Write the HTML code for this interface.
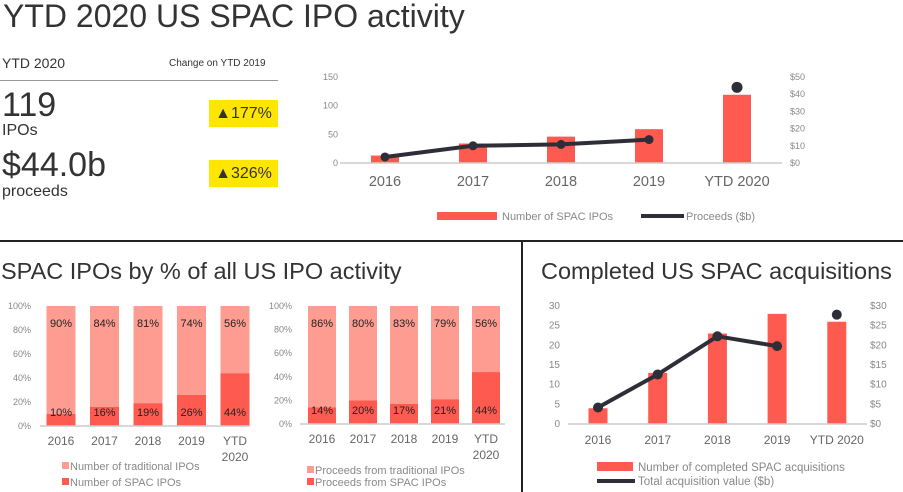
<!DOCTYPE html>
<html><head><meta charset="utf-8"><style>
body{margin:0;width:903px;height:492px;background:#fff;font-family:"Liberation Sans",sans-serif;overflow:hidden;position:relative;color:#333}
.a{position:absolute;white-space:nowrap}
svg{position:absolute;left:0;top:0}
svg text{font-family:"Liberation Sans",sans-serif}
</style></head><body>
<div class="a" style="left:3px;top:-2px;font-size:32px;color:#333">YTD 2020 US SPAC IPO activity</div>
<div class="a" style="left:2px;top:55px;font-size:14px">YTD 2020</div>
<div class="a" style="left:169px;top:58px;font-size:10px">Change on YTD 2019</div>
<div class="a" style="left:0;top:80px;width:278px;height:1px;background:#999"></div>
<div class="a" style="left:2px;top:86px;font-size:34px">119</div>
<div class="a" style="left:2px;top:122px;font-size:16px">IPOs</div>
<div class="a" style="left:2px;top:146px;font-size:34px">$44.0b</div>
<div class="a" style="left:2px;top:183px;font-size:16px">proceeds</div>
<div class="a" style="left:209px;top:100px;width:69px;height:27px;background:#ffe600;font-size:16px;line-height:27px;text-align:center">▲177%</div>
<div class="a" style="left:209px;top:160px;width:69px;height:27px;background:#ffe600;font-size:16px;line-height:27px;text-align:center">▲326%</div>
<div class="a" style="left:0;top:240px;width:903px;height:2px;background:#222"></div>
<div class="a" style="left:521px;top:241px;width:2px;height:251px;background:#222"></div>
<div class="a" style="left:1px;top:258px;font-size:23.5px">SPAC IPOs by % of all US IPO activity</div>
<div class="a" style="left:541px;top:258px;font-size:23.5px">Completed US SPAC acquisitions</div>
<svg id="s" width="903" height="492"></svg>
<script>
const years=["2016","2017","2018","2019","YTD 2020"];
const spacIpos=[13,34,46,59,119];
const ipoProceeds=[3.5,10,10.8,13.6,44];
const spacCountPct=[10,16,19,26,44];
const tradCountPct=[90,84,81,74,56];
const spacProcPct=[14,20,17,21,44];
const tradProcPct=[86,80,83,79,56];
const acqCount=[4,13,23,28,26];
const acqValue=[4.2,12.6,22.3,19.8,27.8];
const leftTicks1=[0,50,100,150];
const rightTicks1=["$0","$10","$20","$30","$40","$50"];
const pctTicks=["0%","20%","40%","60%","80%","100%"];
const leftTicks3=[0,5,10,15,20,25,30];
const rightTicks3=["$0","$5","$10","$15","$20","$25","$30"];
const RED="#ff5a4f",LIGHT="#ff9c92",DARK="#2e2e38",GRAY="#888";
const s=document.getElementById('s');const NS="http://www.w3.org/2000/svg";
function el(t,a,txt){const e=document.createElementNS(NS,t);for(const k in a)e.setAttribute(k,a[k]);if(txt!=null)e.textContent=txt;s.appendChild(e);return e;}
function tx(x,y,t,size,anchor,fill,name){const e=el('text',{x:x,y:y,'font-size':size,'text-anchor':anchor||'middle',fill:fill||GRAY},t);

return e;}
// Chart 1
(function(){const x0=385,dx=88,y0=163,h=86,bw=28;const ys=v=>y0-v/150*h,yr=v=>y0-v/50*h;
leftTicks1.forEach(t=>tx(338,ys(t)+3,t,9,'end',GRAY,'left-tick'));
rightTicks1.forEach((t,i)=>tx(790,yr(i*10)+3,t,9,'start',GRAY,'right-tick'));
years.forEach((c,i)=>{const x=x0+i*dx;const r=el('rect',{x:x-bw/2,y:ys(spacIpos[i]),width:bw,height:y0-ys(spacIpos[i]),fill:RED});


tx(x,186,c,14.5,'middle','#666','x-label');});
const ln=el('line',{x1:340,x2:782,y1:y0,y2:y0,stroke:'#ccc','stroke-width':1.5});


let p=ipoProceeds.slice(0,4).map((v,i)=>(x0+i*dx)+','+yr(v)).join(' ');
const pl=el('polyline',{points:p,fill:'none',stroke:DARK,'stroke-width':4});


ipoProceeds.forEach((v,i)=>{const c=el('circle',{cx:x0+i*dx,cy:yr(v),r:i==4?5.5:4.5,fill:DARK});

});
const l1=el('rect',{x:437,y:212,width:60,height:8,fill:RED});


tx(502,220,'Number of SPAC IPOs',11,'start',GRAY,'legend-ipos');
const l2=el('line',{x1:641,x2:684,y1:216,y2:216,stroke:DARK,'stroke-width':4});


tx(686,220,'Proceeds ($b)',11,'start',GRAY,'legend-proceeds');})();
// Stacked charts
function stacked(cx,dx,y0,y1,bw,spac,trad,labX,axA,axB,leg1,leg2,legY){const H=y0-y1,y=v=>y0-v/100*H;
pctTicks.forEach((t,i)=>tx(labX,y(i*20)+3,t,9,'end',GRAY,'pct-tick'));
years.forEach((c,i)=>{const x=cx+i*dx;
const a=el('rect',{x:x-bw/2,y:y(100),width:bw,height:y(spac[i])-y(100),fill:LIGHT});


const b=el('rect',{x:x-bw/2,y:y(spac[i]),width:bw,height:y0-y(spac[i]),fill:RED});


tx(x,y(100)+21,trad[i]+'%',11,'middle','#222','label-traditional');
tx(x,y0-10,spac[i]+'%',11,'middle','#222','label-spac');
if(i<4)tx(x,y0+19,c,12,'middle','#666','x-label');else{tx(x,y0+19,'YTD',12,'middle','#666','x-label');tx(x,y0+35,'2020',12,'middle','#666','x-label');}});
const ln=el('line',{x1:axA,x2:axB,y1:y0,y2:y0,stroke:'#ccc','stroke-width':1.5});


const r1=el('rect',{x:legY[0],y:legY[1]-8,width:7,height:7,fill:LIGHT});


tx(legY[0]+8,legY[1],leg1,11,'start',GRAY,'legend-traditional');
const r2=el('rect',{x:legY[0],y:legY[2]-8,width:7,height:7,fill:RED});


tx(legY[0]+8,legY[2],leg2,11,'start',GRAY,'legend-spac');}
stacked(61,43.5,426,306,29,spacCountPct,tradCountPct,31,40,250,'Number of traditional IPOs','Number of SPAC IPOs',[62,470,486]);
stacked(322,41,424,306,28,spacProcPct,tradProcPct,292,300,505,'Proceeds from traditional IPOs','Proceeds from SPAC IPOs',[307,474,486]);
// Chart 3
(function(){const x0=598,dx=59.7,y0=424,H=118,bw=19;const y=v=>y0-v/30*H;
leftTicks3.forEach(t=>tx(560,y(t)+3,t,10,'end',GRAY,'left-tick'));
rightTicks3.forEach((t,i)=>tx(870,y(i*5)+3,t,10,'start',GRAY,'right-tick'));
years.forEach((c,i)=>{const x=x0+i*dx;const r=el('rect',{x:x-bw/2,y:y(acqCount[i]),width:bw,height:y0-y(acqCount[i]),fill:RED});


tx(x,444,c,12,'middle','#666','x-label');});
const ln=el('line',{x1:568,x2:867,y1:y0,y2:y0,stroke:'#ccc','stroke-width':1.5});


const pl=el('polyline',{points:acqValue.slice(0,4).map((v,i)=>(x0+i*dx)+','+y(v)).join(' '),fill:'none',stroke:DARK,'stroke-width':4});


acqValue.forEach((v,i)=>{const c=el('circle',{cx:x0+i*dx,cy:y(v),r:5,fill:DARK});

});
const l1=el('rect',{x:597,y:462,width:36,height:9,fill:RED});


tx(638,471,'Number of completed SPAC acquisitions',11.5,'start',GRAY,'legend-acq');
const l2=el('line',{x1:597,x2:635,y1:481,y2:481,stroke:DARK,'stroke-width':4});


tx(638,485,'Total acquisition value ($b)',11.5,'start',GRAY,'legend-value');})();
</script>
</body></html>
